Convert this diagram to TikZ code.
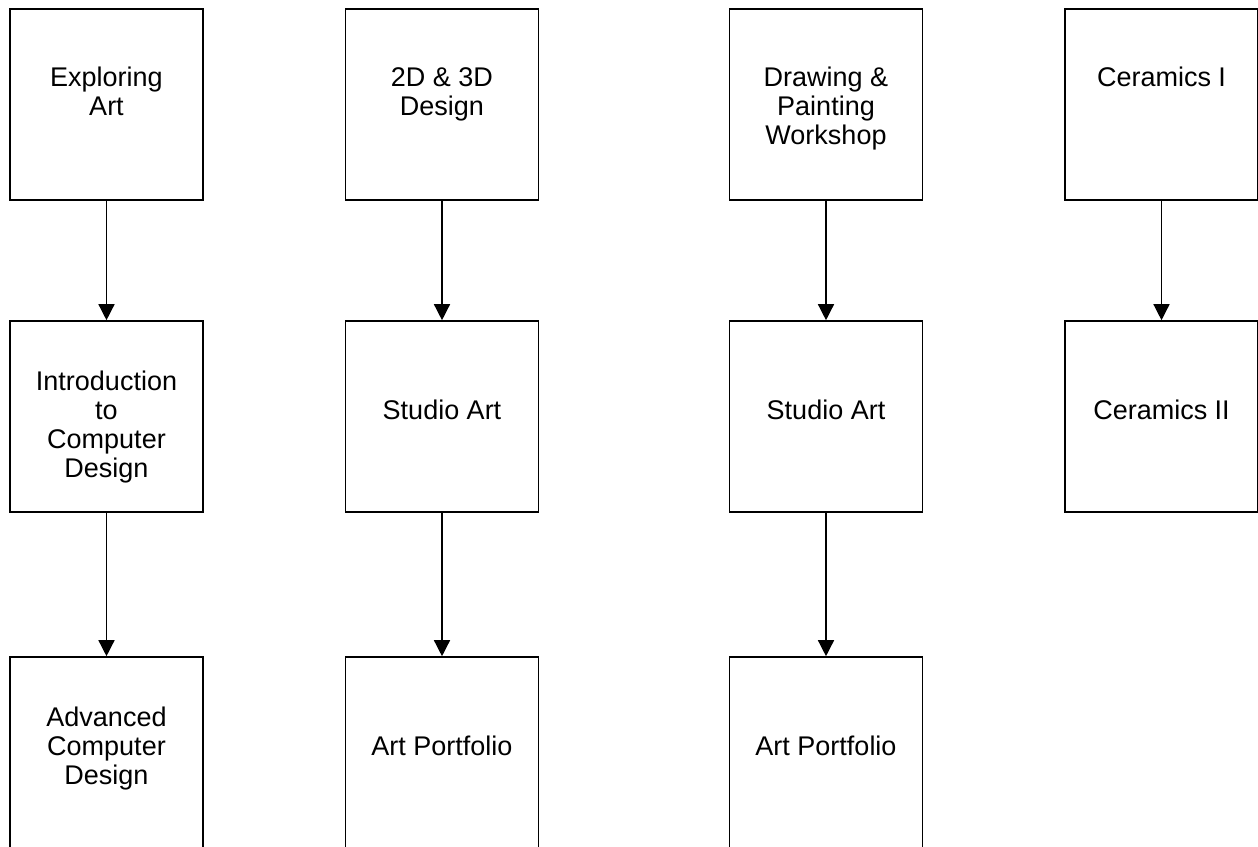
\documentclass[tikz,border=0pt]{standalone}
\usepackage{fontspec}
\setmainfont{Liberation Sans}
\usetikzlibrary{arrows.meta}
\begin{document}
\begin{tikzpicture}[x=1pt,y=-1pt,
  course/.style={draw=black, line width=1.6pt, minimum width=193pt, minimum height=191pt, inner sep=0pt, fill=none},
  label/.style={align=center, inner sep=0pt, font=\fontsize{27}{29}\selectfont},
  flow/.style={line width=1.4pt, -{Triangle[length=16pt,width=16pt]}}]
\useasboundingbox[fill=white] (0,0) rectangle (1258,846);
% boxes
\node[course] (b11) at (106.5,104.5) {};
\node[course] (b21) at (106.5,416.5) {};
\node[course] (b31) at (106.5,752.5) {};
\node[course] (b12) at (442,104.5) {};
\node[course] (b22) at (442,416.5) {};
\node[course] (b32) at (442,752.5) {};
\node[course] (b13) at (826,104.5) {};
\node[course] (b23) at (826,416.5) {};
\node[course] (b33) at (826,752.5) {};
\node[course] (b14) at (1161.5,104.5) {};
\node[course] (b24) at (1161.5,416.5) {};
% texts
\node[label] (t11) at (106.5,95) {\strut Exploring\\\strut Art};
\node[label] (t21) at (106.5,428) {\strut Introduction\\\strut to\\\strut Computer\\\strut Design};
\node[label] (t31) at (106.5,749.5) {\strut Advanced\\\strut Computer\\\strut Design};
\node[label] (t12) at (442,95) {\strut 2D \& 3D\\\strut Design};
\node[label] (t22) at (442,413.5) {\strut Studio Art};
\node[label] (t32) at (442,749.5) {\strut Art Portfolio};
\node[label] (t13) at (826,109.5) {\strut Drawing \&\\\strut Painting\\\strut Workshop};
\node[label] (t23) at (826,413.5) {\strut Studio Art};
\node[label] (t33) at (826,749.5) {\strut Art Portfolio};
\node[label] (t14) at (1161.5,80.5) {\strut Ceramics I};
\node[label] (t24) at (1161.5,413.5) {\strut Ceramics II};
% arrows
\draw[flow] (b11.south) -- (b21.north);
\draw[flow] (b21.south) -- (b31.north);
\draw[flow] (b12.south) -- (b22.north);
\draw[flow] (b22.south) -- (b32.north);
\draw[flow] (b13.south) -- (b23.north);
\draw[flow] (b23.south) -- (b33.north);
\draw[flow] (b14.south) -- (b24.north);
\end{tikzpicture}
\end{document}
